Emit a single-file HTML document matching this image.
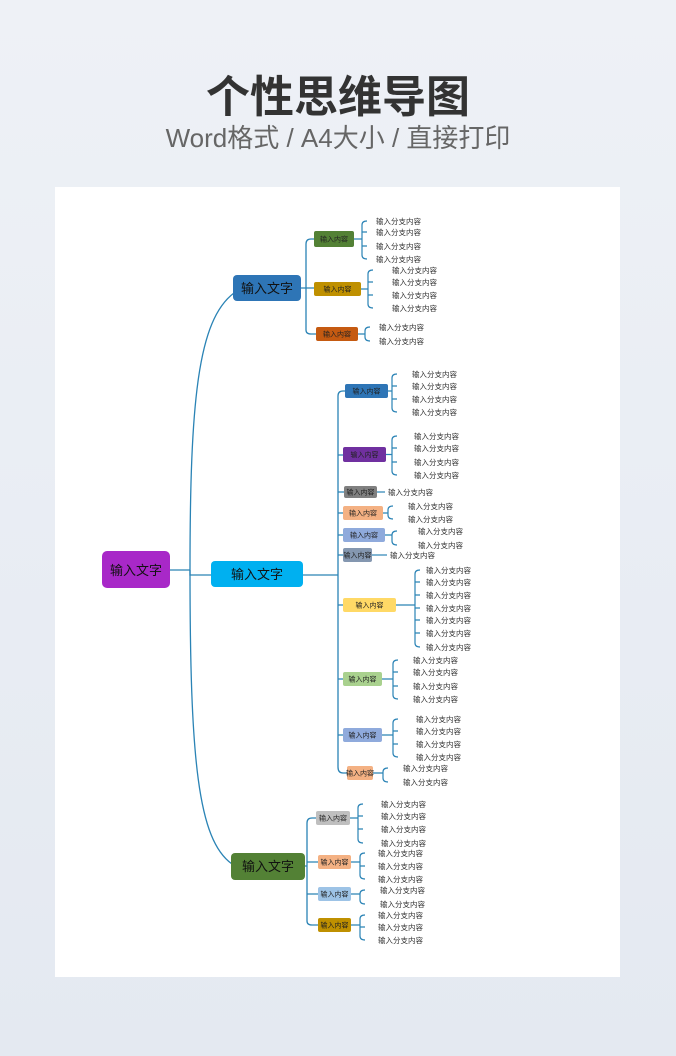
<!DOCTYPE html>
<html><head><meta charset="utf-8"><style>
html,body{margin:0;padding:0;width:676px;height:1056px;overflow:hidden;background:#e9edf3;}
svg{display:block}
</style></head><body>
<svg width="676" height="1056" viewBox="0 0 676 1056" xmlns="http://www.w3.org/2000/svg" font-family="Liberation Sans, Noto Sans CJK SC, sans-serif">
<defs><linearGradient id="bg" x1="0" y1="0" x2="0" y2="1"><stop offset="0" stop-color="#eef1f6"/><stop offset="1" stop-color="#e4e9f1"/></linearGradient></defs>
<rect width="676" height="1056" fill="url(#bg)"/>
<text x="338" y="112" text-anchor="middle" font-size="44" font-weight="bold" fill="#333">个性思维导图</text>
<text x="338" y="147" text-anchor="middle" font-size="26" fill="#666">Word格式 / A4大小 / 直接打印</text>
<rect x="55" y="187" width="565" height="790" fill="#fff"/>
<g fill="none" stroke="#2a83b5" stroke-width="1.3">
<path d="M170,570 H190"/>
<path d="M190,570 C190,400 198,320 234,293"/>
<path d="M190,570 C190,760 198,840 232,864"/>
<path d="M190,570 V575 H211"/>
<path d="M300,288 H306 M306,244 V330 M306,244 Q306,239 311,239 H314 M306,288 H314 M306,330 Q306,334 311,334 H316"/>
<path d="M303,575 H338 M338,396 V767 M338,396 Q338,391 343,391 H345 M338,455 H343 M338,492 H344 M338,513 H343 M338,535 H343 M338,555 H343 M338,605 H343 M338,679 H343 M338,735 H343 M338,767 Q338,773 343,773 H347"/>
<path d="M305,866 H307 M307,823 V921 M307,823 Q307,818 312,818 H316 M307,862 H318 M307,894 H318 M307,921 Q307,925 312,925 H318"/>
</g>
<g id="brackets" fill="none" stroke="#2a83b5" stroke-width="1.2"></g>
<g id="nodes"></g>
<g id="leaves" font-size="7.5" fill="#333"></g>
<rect x="102" y="551" width="68" height="37" rx="5" fill="#a828c8"/>
<text x="136" y="575" text-anchor="middle" font-size="13" fill="#111">输入文字</text>
<rect x="233" y="275" width="68" height="26" rx="4" fill="#2e75b6"/>
<text x="267" y="293" text-anchor="middle" font-size="13" fill="#111">输入文字</text>
<rect x="211" y="561" width="92" height="26" rx="4" fill="#00b0f0"/>
<text x="257" y="579" text-anchor="middle" font-size="13" fill="#111">输入文字</text>
<rect x="231" y="853" width="74" height="27" rx="4" fill="#538135"/>
<text x="268" y="871" text-anchor="middle" font-size="13" fill="#111">输入文字</text>
</svg>
<script>
var N=[
[314,231,40,16,"#538135",362,376,[221,232,246,259]],
[314,282,47,14,"#bf9000",368,392,[270,282,295,308]],
[316,327,42,14,"#c55a11",365,379,[327,341]],
[345,384,43,14,"#2e75b6",392,412,[374,386,399,412]],
[343,447,43,15,"#7030a0",392,414,[436,448,462,475]],
[344,486,33,12,"#808080",0,388,[492]],
[343,506,40,14,"#f4b183",388,408,[506,519]],
[343,528,42,14,"#8faadc",392,418,[531,545]],
[343,548,29,14,"#8497b0",0,390,[555]],
[343,598,53,14,"#ffd966",415,426,[570,582,595,608,620,633,647]],
[343,672,39,14,"#a9d18e",393,413,[660,672,686,699]],
[343,728,39,14,"#8faadc",393,416,[719,731,744,757]],
[347,766,26,14,"#f4b183",383,403,[768,782]],
[316,811,34,14,"#bfbfbf",358,381,[804,816,829,843]],
[318,855,33,14,"#f4b183",360,378,[853,866,879]],
[318,887,33,14,"#9dc3e6",360,380,[890,904]],
[318,918,33,14,"#bf9000",360,378,[915,927,940]]];
var ns="http://www.w3.org/2000/svg";
function el(t,a,p,tx){var e=document.createElementNS(ns,t);for(var k in a)e.setAttribute(k,a[k]);if(tx)e.textContent=tx;document.getElementById(p).appendChild(e);}
N.forEach(function(n){var x=n[0],y=n[1],w=n[2],h=n[3],c=n[4],bx=n[5],lx=n[6],L=n[7],cy=y+h/2;
el("rect",{x:x,y:y,width:w,height:h,rx:2,fill:c},"nodes");
el("text",{x:x+w/2,y:cy+2.5,"text-anchor":"middle","font-size":"7",fill:"#222"},"nodes","输入内容");
if(L.length==1){el("path",{d:"M"+(x+w)+","+cy+" H"+(lx-3)},"brackets");}
else{var d="M"+(x+w)+","+cy+" H"+bx+" M"+(bx+5)+","+L[0]+" Q"+bx+","+L[0]+" "+bx+","+(L[0]+4)+" V"+(L[L.length-1]-4)+" Q"+bx+","+L[L.length-1]+" "+(bx+5)+","+L[L.length-1];
for(var i=1;i<L.length-1;i++)d+=" M"+bx+","+L[i]+" H"+(bx+5);
el("path",{d:d},"brackets");}
L.forEach(function(ly){el("text",{x:lx,y:ly+3},"leaves","输入分支内容");});
});
</script>
</body></html>
